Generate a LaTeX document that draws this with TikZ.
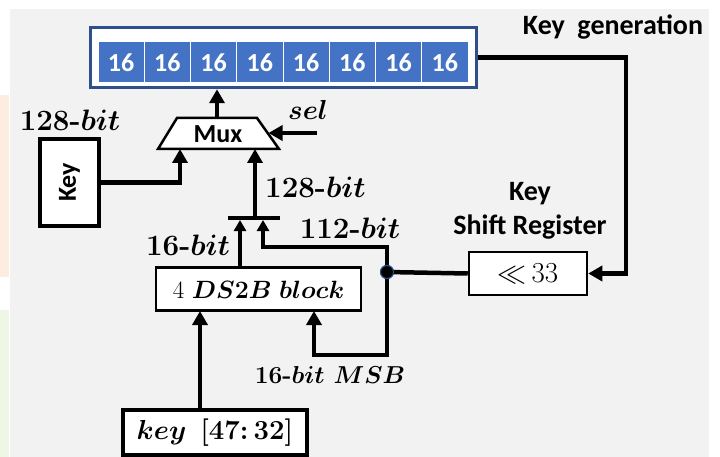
\RequirePackage{fix-cm}
\documentclass[tikz,border=0pt]{standalone}
\usepackage{fontspec}
\newfontfamily\calf{Carlito}
\usetikzlibrary{arrows.meta}
\definecolor{bgc}{HTML}{F2F2F2}
\definecolor{navy}{HTML}{2F4F8A}
\definecolor{cellc}{HTML}{4472C4}
\definecolor{tintor}{HTML}{FDEDE1}
\definecolor{tintgr}{HTML}{EEF7E5}
\newcommand\bmm[1]{{\boldmath$#1$}}
\newcommand\mykeytxt{{\boldmath$key\;\,[47{:}\,32]$}}
\newcommand\mydstxt{$4$ {\boldmath$DS2B\ block$}}
\begin{document}
\begin{tikzpicture}[x=1pt,y=-1pt,
  sanslab/.style={font=\calf\bfseries\fontsize{28}{31}\selectfont, inner sep=0pt},
  serlab/.style={font=\bfseries\fontsize{29.5}{32}\selectfont, inner sep=0pt},
  cellbox/.style={draw=white, line width=1pt, fill=cellc, minimum width=46.25pt, minimum height=41pt, inner sep=0pt, text=white, font=\calf\bfseries\fontsize{26}{28}\selectfont},
  thickbox/.style={draw=black, line width=4.5pt, fill=white, inner sep=0pt},
  thinbox/.style={draw=black, line width=2.5pt, fill=white, inner sep=0pt},
  wire/.style={line width=4.5pt},
  arr/.style={line width=4.5pt, -{Triangle[length=14pt,width=15pt]}},
  tarr/.style={line width=3.5pt, -{Triangle[length=11pt,width=12pt]}}
]
\useasboundingbox (0,0) rectangle (720,457);
% background panels
\fill[bgc] (10,9) rectangle (709,457);
\fill[tintor] (0,95) rectangle (9,277);
\fill[tintgr] (0,310) rectangle (9,457);

% register
\node[draw=navy, line width=3.5pt, fill=white, minimum width=386pt, minimum height=60pt, inner sep=0pt] (reg) at (283.5,57.5) {};
\foreach \i in {1,...,8} {
  \node[cellbox] (c\i) at ({98+46.25*(\i-0.5)},62.5) {16};
}

% mux
\coordinate (mtl) at (177,118);
\coordinate (mtr) at (257,118);
\coordinate (mbr) at (279,149);
\coordinate (mbl) at (158,149);
\draw[line width=2.5pt, fill=white, line join=miter] (mtl) -- (mtr) -- (mbr) -- (mbl) -- cycle;
\node[font=\calf\bfseries\fontsize{26}{28}\selectfont, inner sep=0pt] (mux) at (218,134) {Mux};
\coordinate (muxout) at (217,118);
\coordinate (muxin1) at (180,149);
\coordinate (muxin2) at (255,149);
\coordinate (muxsel) at (268.5,133);
\coordinate (selstart) at (317,133);

% key box
\node[thickbox, minimum width=59pt, minimum height=87pt] (keyb) at (69.5,182.5) {};
\node[font=\calf\bfseries\fontsize{26}{28}\selectfont, inner sep=0pt, rotate=90] (keyt) at (69.5,182.5) {Key};

% bus bar
\coordinate (barl) at (228,218);
\coordinate (barr) at (280,218);
\draw[wire] (barl) -- (barr);
\coordinate (barm) at (255,216);

% DS2B block
\node[thinbox, minimum width=205pt, minimum height=43pt] (ds) at (258.5,289) {};
\node[font=\fontsize{25}{28}\selectfont, inner sep=0pt] (dst) at (258.5,290) {\mydstxt};

% key[47:32]
\node[thickbox, minimum width=184pt, minimum height=45pt] (kin) at (215,432.5) {};
\node[font=\fontsize{27.5}{30}\selectfont, inner sep=0pt] (kint) at (215,433) {\mykeytxt};

% junction
\node[circle, fill=black, draw=navy, line width=1pt, minimum size=13pt, inner sep=0pt] (junc) at (387,272) {};

% shift register
\node[thinbox, minimum width=118pt, minimum height=43pt] (sr) at (528,273.5) {};
\node[font=\fontsize{29}{31}\selectfont, inner sep=0pt] (srt) at (528,274) {${\ll}\,33$};

% labels
\node[serlab] (l128a) at (70,120) {\bmm{128}-\bmm{bit}};
\node[serlab, anchor=west] (l128b) at (265,187) {\bmm{128}-\bmm{bit}};
\node[serlab] (l16) at (188,245) {\bmm{16}-\bmm{bit}};
\node[serlab] (l112) at (350,228) {\bmm{112}-\bmm{bit}};
\node[serlab, font=\bfseries\fontsize{24.5}{28}\selectfont] (lmsb) at (330,375) {\bmm{16}-\bmm{bit\ MSB}};
\node[serlab, font=\bfseries\fontsize{27.5}{30}\selectfont] (lsel) at (308,110) {\bmm{sel}};
\node[sanslab] (lkg) at (613,27) {Key~~generation};
\node[sanslab, align=center] (lksr) at (530,211) {Key\\[3pt]Shift Register};

% connectors
\draw[arr] (muxout) -- (muxout |- reg.south);
\draw[arr] (selstart) -- (muxsel);
\draw[arr] (keyb.east) -| (muxin1);
\draw[arr] (barm) -- (muxin2);
\draw[tarr] (240,267.5) -- (240,220);
\draw[tarr, line join=miter] (junc.center) |- (263,247) -- (263,220);
\draw[arr] (200,410) -- (200,311);
\draw[arr, line join=miter] (junc.center) -- (387,355) -| (314,311);
\draw[wire] (junc.center) -- (sr.west);
\draw[arr, line join=miter] (reg.east) -- (626,57.5) |- (sr.east);
\node[circle, fill=black, draw=navy, line width=1pt, minimum size=13pt, inner sep=0pt] at (junc) {};
\end{tikzpicture}
\end{document}
